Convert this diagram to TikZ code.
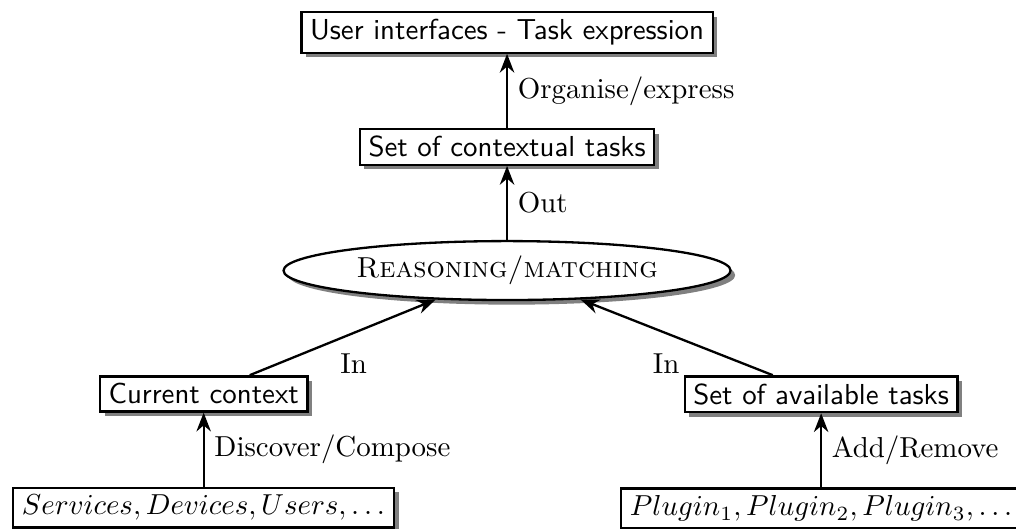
\documentclass[tikz,border=0pt]{standalone}
\usepackage{amsmath, amssymb}
\usepackage{tikz}
\usetikzlibrary{arrows.meta,positioning,shapes.geometric,shadows}

\begin{document}
\begin{tikzpicture}[>={Stealth[length=6.5pt,width=5pt]}, thick, node distance=0.9cm,
  shade/.style={drop shadow={shadow xshift=1.6pt, shadow yshift=-1.6pt, fill=black!50, opacity=1}},
  box/.style={draw, fill=white, font=\sffamily, inner xsep=3pt, inner ysep=2.5pt, shade},
  reasoner/.style={draw, ellipse, fill=white, inner sep=0pt,
        minimum width=154.7pt, minimum height=20.4pt, shade}]
  \useasboundingbox (0,0) rectangle (12.357,-6.434);

  % Nodes
  \node[box] (ui) at (6.167,-0.395) {User interfaces - Task expression};
  \node[box, below=of ui] (ctxtasks) {Set of contextual tasks};
  \node[reasoner, below=of ctxtasks] (reason) {\textsc{Reasoning/matching}};
  \node[box, below=of reason, xshift=-3.69cm] (context) {Current context};
  \node[box, below=of reason, xshift=3.82cm] (avail) {Set of available tasks};
  \node[box, below=of context] (sources) {$Services, Devices, Users, \ldots$};
  \node[box, below=of avail] (plugins) {$Plugin_1, Plugin_2, Plugin_3, \ldots$};

  % Arrows with labels
  \draw[->] (sources) -- (context) node[midway, right] {Discover/Compose};
  \draw[->] (plugins) -- (avail) node[midway, right] {Add/Remove};
  \draw[->] (context) -- (reason) node[pos=0.43, below right] {In};
  \draw[->] (avail) -- (reason) node[pos=0.43, below left] {In};
  \draw[->] (reason) -- (ctxtasks) node[midway, right] {Out};
  \draw[->] (ctxtasks) -- (ui) node[midway, right] {Organise/express};
\end{tikzpicture}
\end{document}
